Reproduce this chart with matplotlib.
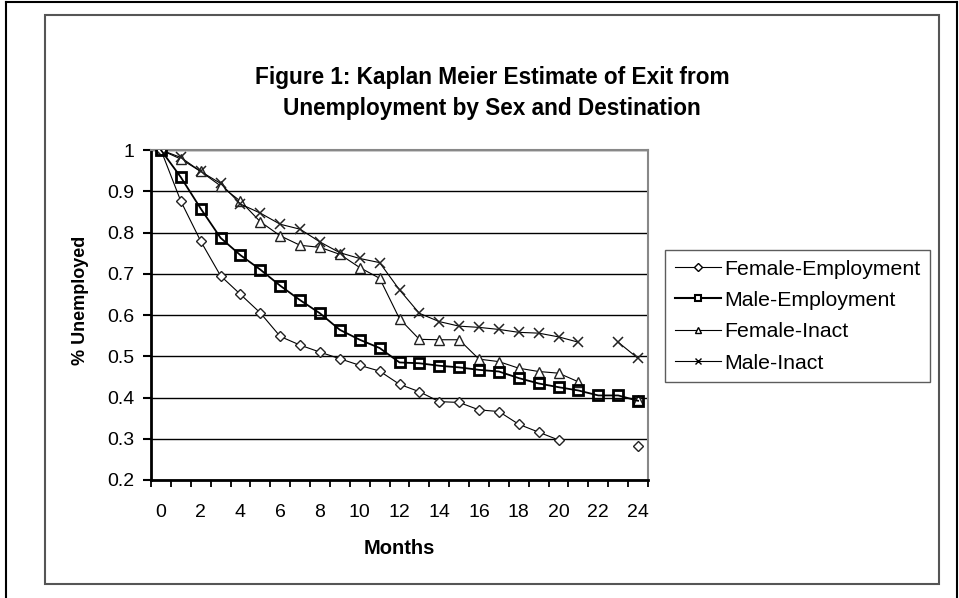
import numpy as np
import matplotlib
matplotlib.use("Agg")
import matplotlib.pyplot as plt
from matplotlib.lines import Line2D
from matplotlib.patches import Rectangle

plt.rcParams['font.family'] = ['Liberation Sans', 'DejaVu Sans']

months = list(range(25))

# Kaplan Meier survival estimates (None = no point)
female_employment = [1.0, 0.876, 0.779, 0.695, 0.650, 0.605, 0.548, 0.527, 0.510, 0.494,
                     0.478, 0.464, 0.432, 0.414, 0.390, 0.388, 0.370, 0.366, 0.335, 0.316,
                     0.297, None, None, None, 0.283]
male_employment = [1.0, 0.934, 0.858, 0.787, 0.745, 0.710, 0.671, 0.636, 0.604, 0.564,
                   0.540, 0.520, 0.485, 0.483, 0.477, 0.473, 0.467, 0.463, 0.447, 0.434,
                   0.425, 0.417, 0.405, 0.405, 0.392]
female_inact = [1.0, 0.978, 0.948, 0.913, 0.876, 0.826, 0.792, 0.769, 0.764, 0.747,
                0.715, 0.689, 0.591, 0.541, 0.540, 0.540, 0.493, 0.487, 0.471, 0.463,
                0.459, 0.438, None, None, 0.395]
male_inact = [1.0, 0.982, 0.948, 0.919, 0.869, 0.847, 0.820, 0.808, 0.777, 0.751,
              0.737, 0.727, 0.661, 0.604, 0.584, 0.573, 0.570, 0.565, 0.558, 0.556,
              0.547, 0.534, None, 0.534, 0.495]

series_names = ['Female-Employment', 'Male-Employment', 'Female-Inact', 'Male-Inact']
y_ticks = [0.2, 0.3, 0.4, 0.5, 0.6, 0.7, 0.8, 0.9, 1.0]
x_tick_labels = list(range(0, 25, 2))

fig = plt.figure(figsize=(9.59, 5.98), dpi=100)

# outer page border and inner chart frame
fig.add_artist(Line2D([6 / 959, 6 / 959], [0, 1 - 2 / 598], transform=fig.transFigure, color='black', lw=1.5))
fig.add_artist(Line2D([6 / 959, 957 / 959], [1 - 2 / 598, 1 - 2 / 598], transform=fig.transFigure, color='black', lw=1.5))
fig.add_artist(Line2D([957 / 959, 957 / 959], [0, 1 - 2 / 598], transform=fig.transFigure, color='black', lw=1.5))
fig.add_artist(Rectangle((45 / 959, 1 - 584 / 598), (939 - 45) / 959, (584 - 15) / 598,
                         transform=fig.transFigure, fill=False, edgecolor='#555555', lw=1.5))

ax = fig.add_axes([151 / 959, 1 - 480 / 598, (648 - 151) / 959, (480 - 150) / 598])

style = dict(color='black', lw=0.8)
ax.plot(months, np.array(female_employment, dtype=float), marker='D', ms=5.5,
        mfc='white', mec='#222222', mew=1.0, **style, zorder=5)
ax.plot(months, np.array(female_inact, dtype=float), marker='^', ms=7,
        mfc='white', mec='#222222', mew=1.0, **style, zorder=4)
ax.plot(months, np.array(male_inact, dtype=float), marker='x', ms=7,
        mec='#222222', mew=1.1, **style, zorder=4)
ax.plot(months, np.array(male_employment, dtype=float), marker='s', ms=7,
        mfc='none', mec='black', mew=2.0, color='black', lw=1.3, zorder=6)

ax.set_xlim(-0.5, 24.5)
ax.set_ylim(0.2, 1.0)
ax.set_yticks(y_ticks)
ax.set_yticklabels([f"{v:g}" for v in y_ticks])
ax.set_xticks(x_tick_labels)
ax.set_xticklabels([str(v) for v in x_tick_labels])
ax.set_xticks(np.arange(-0.5, 25, 1.0), minor=True)

ax.tick_params(axis='y', direction='out', length=6, width=1.5, pad=6, labelsize=14, colors='black')
ax.tick_params(axis='x', which='major', length=0, pad=17, labelsize=14)
ax.tick_params(axis='x', which='minor', direction='out', length=5, width=1.3)

ax.yaxis.grid(True, color='black', lw=1.0)
ax.set_axisbelow(True)

for side in ['left', 'bottom']:
    ax.spines[side].set_linewidth(2.0)
    ax.spines[side].set_color('black')
for side in ['top', 'right']:
    ax.spines[side].set_linewidth(1.5)
    ax.spines[side].set_color('#888888')

# legend with small markers like the original
handles = [
    Line2D([], [], color='black', lw=0.8, marker='D', ms=4, mfc='white', mec='black'),
    Line2D([], [], color='black', lw=1.5, marker='s', ms=5, mfc='white', mec='black', mew=1.5),
    Line2D([], [], color='black', lw=0.8, marker='^', ms=5, mfc='white', mec='black'),
    Line2D([], [], color='black', lw=0.8, marker='x', ms=5, mec='black'),
]
leg = fig.legend(handles, series_names, loc='upper left', bbox_to_anchor=(665 / 959, 1 - 250 / 598),
                 bbox_transform=fig.transFigure, borderaxespad=0, fontsize=15.3, frameon=True,
                 fancybox=False, edgecolor='#333333', handlelength=2.2, handletextpad=0.15,
                 labelspacing=0.58, borderpad=0.45)
leg.get_frame().set_linewidth(1.0)

fig.text(492 / 959, 1 - 93 / 598,
         "Figure 1: Kaplan Meier Estimate of Exit from\nUnemployment by Sex and Destination",
         ha='center', va='center', fontsize=16.3, fontweight='bold', linespacing=1.4)
fig.text(399.5 / 959, 1 - 549 / 598, "Months", ha='center', va='center', fontsize=14.5, fontweight='bold')
fig.text(80.5 / 959, 1 - 300 / 598, "% Unemployed", ha='center', va='center', rotation=90,
         fontsize=13, fontweight='bold')

fig.savefig("out.png", dpi=100, facecolor='white')
